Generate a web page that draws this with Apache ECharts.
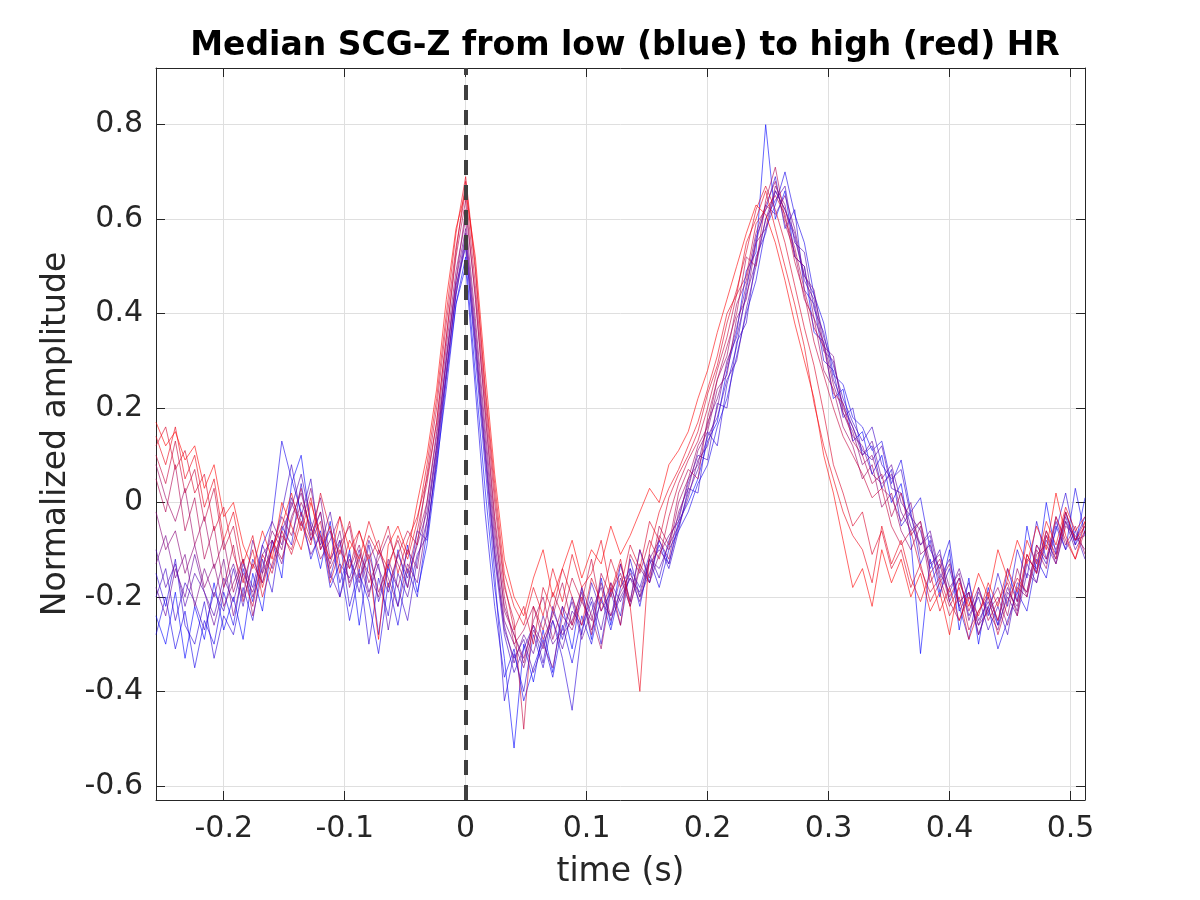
<!DOCTYPE html>
<html><head><meta charset="utf-8">
<script src="https://cdn.jsdelivr.net/npm/echarts@6/dist/echarts.min.js"></script>
<style>html,body{margin:0;padding:0;background:#fff}#c{width:1200px;height:900px}</style>
</head><body><div id="c"></div>
<script>
const times = [-0.256,-0.248,-0.240,-0.232,-0.224,-0.216,-0.208,-0.200,-0.192,-0.184,
-0.176,-0.168,-0.160,-0.152,-0.144,-0.136,-0.128,-0.120,-0.112,-0.104,
-0.096,-0.088,-0.080,-0.072,-0.064,-0.056,-0.048,-0.040,-0.032,-0.024,
-0.016,-0.008,0.000,0.008,0.016,0.024,0.032,0.040,0.048,0.056,
0.064,0.072,0.080,0.088,0.096,0.104,0.112,0.120,0.128,0.136,
0.144,0.152,0.160,0.168,0.176,0.184,0.192,0.200,0.208,0.216,
0.224,0.232,0.240,0.248,0.256,0.264,0.272,0.280,0.288,0.296,
0.304,0.312,0.320,0.328,0.336,0.344,0.352,0.360,0.368,0.376,
0.384,0.392,0.400,0.408,0.416,0.424,0.432,0.440,0.448,0.456,
0.464,0.472,0.480,0.488,0.496,0.504,0.512];

const hr1 = [-0.24,-0.30,-0.19,-0.33,-0.22,-0.29,-0.17,-0.27,-0.20,-0.29,-0.15,-0.23,-0.08,-0.16,0.04,
0.10,-0.05,-0.14,-0.04,-0.20,-0.10,-0.26,-0.12,-0.28,-0.13,-0.22,-0.09,-0.19,-0.09,
0.07,0.26,0.42,0.52,0.27,0.03,-0.18,
-0.33,-0.52,-0.30,-0.38,-0.27,-0.36,-0.22,-0.31,-0.18,-0.29,-0.16,-0.26,-0.13,-0.21,-0.10,-0.17,-0.08,-0.13,-0.04,
0.00,0.05,0.13,0.17,0.28,0.36,0.49,0.53,0.80,0.60,0.66,0.52,0.50,0.36,0.34,0.22,0.24,0.13,
0.15,0.06,0.10,0.00,0.04,-0.08,-0.32,-0.12,-0.20,-0.10,-0.27,-0.16,-0.30,-0.18,-0.26,-0.14,-0.21,-0.05,-0.15,0.00,-0.11,-0.02,-0.09,0.01];
const hr1b = [-0.28,-0.20,-0.31,-0.23,-0.35,-0.25,-0.30,-0.19,-0.26,-0.14,-0.21,-0.09,-0.04,0.13,0.05,
-0.02,-0.12,-0.06,-0.18,-0.13,-0.25,-0.15,-0.21,-0.32,-0.17,-0.26,-0.14,-0.20,-0.06,
0.08,0.24,0.42,0.50,0.24,-0.02,-0.22,
-0.37,-0.31,-0.42,-0.35,-0.29,-0.37,-0.26,-0.34,-0.24,-0.30,-0.20,-0.27,-0.18,-0.14,-0.22,-0.12,-0.18,-0.10,-0.06,
-0.02,0.04,0.08,0.16,0.22,0.31,0.40,0.47,0.58,0.63,0.70,0.61,0.55,0.44,0.38,0.27,0.25,0.18,
0.16,0.11,0.13,0.04,0.09,-0.02,0.01,-0.10,-0.14,-0.08,-0.23,-0.19,-0.28,-0.22,-0.31,-0.25,-0.19,-0.23,-0.12,-0.16,-0.05,-0.10,0.03,-0.07];
const hr2 = [-0.15,-0.22,-0.12,-0.26,-0.30,-0.21,-0.33,-0.24,-0.28,-0.18,-0.25,-0.12,-0.19,-0.05,-0.09,
0.04,-0.08,-0.02,-0.16,-0.08,-0.22,-0.14,-0.30,-0.16,-0.24,-0.10,-0.18,-0.06,-0.08,
0.10,0.28,0.44,0.55,0.31,0.08,-0.15,
-0.42,-0.32,-0.40,-0.28,-0.35,-0.25,-0.33,-0.44,-0.27,-0.21,-0.30,-0.18,-0.24,-0.12,-0.20,-0.15,-0.09,-0.14,-0.06,
0.03,0.02,0.15,0.12,0.25,0.33,0.45,0.56,0.62,0.69,0.58,0.62,0.45,0.42,0.30,0.28,0.18,0.20,
0.10,0.12,0.03,0.07,-0.05,-0.02,-0.13,-0.08,-0.19,-0.14,-0.22,-0.29,-0.18,-0.24,-0.15,-0.22,-0.10,-0.16,-0.04,-0.12,-0.06,0.02,-0.08,-0.03];
const hr3 = [-0.20,-0.14,-0.25,-0.17,-0.21,-0.27,-0.19,-0.23,-0.14,-0.22,-0.12,-0.17,-0.10,-0.02,0.08,
-0.03,0.05,-0.10,-0.06,-0.17,-0.11,-0.19,-0.09,-0.21,-0.14,-0.18,-0.25,-0.12,-0.04,
0.12,0.30,0.46,0.54,0.33,0.10,-0.12,
-0.28,-0.36,-0.31,-0.26,-0.34,-0.22,-0.29,-0.20,-0.28,-0.17,-0.23,-0.19,-0.26,-0.14,-0.18,-0.11,-0.16,-0.08,-0.03,
0.04,0.10,0.09,0.21,0.20,0.34,0.38,0.52,0.57,0.66,0.62,0.56,0.48,0.44,0.35,0.29,0.22,0.17,
0.13,0.16,0.08,0.05,0.07,-0.03,-0.06,-0.14,-0.10,-0.21,-0.16,-0.24,-0.20,-0.27,-0.22,-0.28,-0.17,-0.19,-0.09,-0.13,-0.04,-0.10,-0.06,-0.12];
const hr4 = [-0.10,-0.18,-0.13,-0.22,-0.15,-0.19,-0.24,-0.16,-0.21,-0.13,-0.18,-0.09,-0.14,-0.06,-0.01,
0.06,-0.04,-0.09,-0.02,-0.13,-0.16,-0.10,-0.19,-0.13,-0.27,-0.15,-0.20,-0.11,-0.07,
0.09,0.27,0.45,0.57,0.35,0.12,-0.10,
-0.27,-0.33,-0.29,-0.36,-0.30,-0.25,-0.31,-0.23,-0.26,-0.20,-0.27,-0.17,-0.21,-0.16,-0.19,-0.12,-0.14,-0.09,-0.05,
0.02,0.07,0.14,0.18,0.26,0.30,0.41,0.50,0.60,0.64,0.67,0.55,0.53,0.41,0.36,0.26,0.21,0.16,
0.11,0.09,0.12,0.03,0.02,-0.05,-0.09,-0.07,-0.16,-0.12,-0.22,-0.17,-0.25,-0.21,-0.26,-0.20,-0.24,-0.15,-0.17,-0.08,-0.12,-0.03,-0.09,-0.05];
const hr4b = [-0.18,-0.24,-0.14,-0.20,-0.11,-0.19,-0.26,-0.18,-0.13,-0.20,-0.08,-0.15,-0.04,-0.09,0.01,
-0.04,-0.11,-0.07,-0.15,-0.20,-0.12,-0.17,-0.08,-0.14,-0.19,-0.11,-0.16,-0.09,-0.02,
0.12,0.27,0.44,0.56,0.34,0.11,-0.11,
-0.26,-0.34,-0.28,-0.32,-0.24,-0.30,-0.27,-0.21,-0.29,-0.23,-0.18,-0.25,-0.20,-0.16,-0.21,-0.13,-0.10,-0.13,-0.05,
0.01,0.09,0.12,0.20,0.30,0.35,0.44,0.51,0.60,0.66,0.62,0.57,0.47,0.43,0.32,0.30,0.20,0.16,
0.10,0.13,0.05,0.08,0.00,-0.03,-0.09,-0.06,-0.15,-0.19,-0.14,-0.21,-0.26,-0.20,-0.25,-0.18,-0.23,-0.13,-0.17,-0.07,-0.13,-0.04,-0.10,-0.06];
const hr5 = [-0.13,-0.07,-0.16,-0.11,-0.22,-0.14,-0.20,-0.12,-0.24,-0.15,-0.19,-0.11,-0.08,-0.13,-0.03,
0.02,-0.06,0.01,-0.12,-0.08,-0.17,-0.12,-0.20,-0.10,-0.16,-0.22,-0.13,-0.17,-0.04,
0.11,0.31,0.47,0.58,0.37,0.14,-0.08,
-0.25,-0.30,-0.35,-0.27,-0.31,-0.23,-0.28,-0.25,-0.19,-0.27,-0.21,-0.24,-0.16,-0.22,-0.14,-0.17,-0.11,-0.07,-0.04,
0.05,0.08,0.17,0.22,0.29,0.37,0.46,0.55,0.63,0.61,0.65,0.58,0.48,0.45,0.33,0.31,0.19,0.14,
0.12,0.06,0.04,0.06,-0.02,-0.06,-0.04,-0.13,-0.11,-0.18,-0.15,-0.25,-0.19,-0.23,-0.27,-0.19,-0.22,-0.12,-0.14,-0.06,-0.10,-0.04,-0.08,-0.07];
const hr6 = [-0.02,-0.10,-0.06,-0.15,-0.09,-0.18,-0.13,-0.22,-0.17,-0.12,-0.20,-0.14,-0.06,-0.10,0.00,
-0.05,0.03,-0.08,-0.13,-0.06,-0.18,-0.11,-0.15,-0.20,-0.12,-0.18,-0.10,-0.14,0.00,
0.15,0.33,0.49,0.60,0.39,0.16,-0.06,
-0.22,-0.28,-0.33,-0.26,-0.30,-0.35,-0.24,-0.27,-0.21,-0.25,-0.17,-0.24,-0.19,-0.15,-0.20,-0.12,-0.08,-0.12,-0.02,
0.03,0.11,0.15,0.24,0.27,0.39,0.43,0.55,0.58,0.67,0.63,0.52,0.50,0.39,0.34,0.25,0.19,0.15,
0.08,0.10,0.03,0.01,-0.04,0.00,-0.11,-0.09,-0.17,-0.13,-0.21,-0.19,-0.26,-0.23,-0.20,-0.26,-0.18,-0.20,-0.11,-0.09,-0.13,-0.05,-0.07,-0.10];
const hr6b = [0.08,0.01,-0.04,0.03,-0.09,-0.03,-0.14,-0.08,-0.19,-0.12,-0.24,-0.15,-0.10,-0.03,-0.07,
0.00,-0.05,-0.12,-0.08,-0.03,-0.14,-0.09,-0.17,-0.12,-0.07,-0.13,-0.18,-0.08,0.00,
0.14,0.30,0.47,0.62,0.44,0.19,-0.04,
-0.23,-0.28,-0.34,-0.25,-0.20,-0.29,-0.22,-0.26,-0.18,-0.24,-0.31,-0.19,-0.15,-0.22,-0.13,-0.17,-0.07,-0.10,0.00,
0.05,0.12,0.16,0.26,0.31,0.42,0.47,0.57,0.63,0.68,0.59,0.53,0.43,0.39,0.28,0.24,0.16,0.12,
0.05,0.08,-0.01,0.02,-0.06,-0.10,-0.05,-0.17,-0.13,-0.21,-0.25,-0.19,-0.28,-0.22,-0.18,-0.24,-0.14,-0.20,-0.10,-0.14,-0.03,-0.09,-0.05,-0.11];
const hr7 = [0.05,-0.02,0.08,-0.06,0.01,-0.12,-0.05,-0.18,-0.09,-0.21,-0.13,-0.17,-0.08,-0.12,-0.04,
0.03,-0.07,-0.02,-0.14,-0.09,-0.05,-0.16,-0.11,-0.19,-0.13,-0.08,-0.15,-0.06,0.04,
0.17,0.35,0.52,0.64,0.43,0.20,-0.03,
-0.20,-0.30,-0.27,-0.22,-0.29,-0.24,-0.17,-0.26,-0.20,-0.28,-0.15,-0.20,-0.13,-0.21,-0.10,-0.16,-0.05,-0.09,0.02,
0.07,0.05,0.18,0.26,0.33,0.40,0.52,0.50,0.64,0.71,0.60,0.54,0.45,0.37,0.33,0.23,0.21,0.13,
0.10,0.04,0.06,-0.03,0.02,-0.07,-0.04,-0.15,-0.12,-0.20,-0.16,-0.23,-0.18,-0.25,-0.21,-0.17,-0.24,-0.11,-0.15,-0.07,-0.11,-0.02,-0.08,-0.04];
const hr8 = [0.10,0.04,0.13,0.02,0.07,-0.04,0.03,-0.10,-0.05,-0.16,-0.22,-0.11,-0.15,-0.07,-0.10,
-0.02,-0.08,-0.04,-0.17,-0.10,-0.14,-0.06,-0.12,-0.08,-0.18,-0.11,-0.06,-0.09,0.06,
0.20,0.38,0.54,0.66,0.46,0.22,0.00,
-0.18,-0.25,-0.48,-0.22,-0.27,-0.19,-0.24,-0.16,-0.21,-0.12,-0.23,-0.17,-0.26,-0.11,-0.15,-0.08,-0.12,-0.03,0.04,
0.09,0.13,0.20,0.28,0.35,0.44,0.48,0.59,0.62,0.65,0.61,0.51,0.44,0.34,0.27,0.20,0.14,0.10,
0.06,0.01,0.03,-0.05,-0.09,-0.06,-0.14,-0.19,-0.16,-0.22,-0.18,-0.27,-0.23,-0.20,-0.28,-0.21,-0.16,-0.19,-0.09,-0.12,-0.03,-0.08,-0.12,-0.06];
const hr8b = [0.12,0.16,0.07,0.11,0.02,0.06,-0.06,-0.01,-0.11,-0.17,-0.10,-0.20,-0.13,-0.06,-0.11,
-0.04,-0.09,0.02,-0.06,-0.11,-0.04,-0.14,-0.07,-0.11,-0.05,-0.15,-0.08,-0.03,0.05,
0.17,0.35,0.53,0.68,0.49,0.24,0.02,
-0.17,-0.27,-0.22,-0.30,-0.18,-0.23,-0.14,-0.20,-0.26,-0.16,-0.21,-0.12,-0.18,-0.09,-0.14,-0.04,-0.08,0.01,0.06,
0.10,0.15,0.23,0.29,0.38,0.45,0.53,0.62,0.67,0.62,0.55,0.46,0.37,0.29,0.19,0.08,0.02,-0.05,
-0.02,-0.11,-0.06,-0.14,-0.10,-0.18,-0.13,-0.21,-0.17,-0.24,-0.20,-0.29,-0.23,-0.19,-0.25,-0.16,-0.21,-0.11,-0.15,-0.06,-0.12,-0.02,-0.08,-0.05];
const hr9 = [0.14,0.08,0.16,0.05,0.10,-0.01,0.05,-0.08,-0.02,-0.13,-0.07,-0.18,-0.10,-0.05,0.02,
-0.06,0.01,-0.10,-0.05,-0.15,-0.08,-0.12,-0.04,-0.10,-0.14,-0.07,-0.12,-0.04,0.08,
0.22,0.40,0.57,0.69,0.50,0.25,0.04,
-0.15,-0.22,-0.26,-0.18,-0.24,-0.14,-0.21,-0.11,-0.18,-0.15,-0.08,-0.19,-0.12,-0.22,-0.40,-0.10,-0.02,0.03,0.07,
0.12,0.17,0.24,0.31,0.40,0.44,0.55,0.60,0.66,0.58,0.50,0.42,0.33,0.21,0.12,0.05,-0.02,-0.07,
-0.10,-0.17,-0.05,-0.13,-0.08,-0.16,-0.21,-0.15,-0.23,-0.18,-0.25,-0.20,-0.24,-0.17,-0.22,-0.14,-0.19,-0.08,-0.13,-0.04,-0.09,-0.01,-0.06,-0.03];
const hr10 = [0.17,0.12,0.15,0.09,0.12,0.03,0.08,-0.03,0.00,-0.09,-0.14,-0.06,-0.12,0.00,-0.05,
-0.10,0.00,-0.07,-0.12,-0.03,-0.10,-0.06,-0.13,-0.29,-0.09,-0.05,-0.11,0.00,0.10,
0.24,0.43,0.58,0.66,0.52,0.28,0.06,
-0.12,-0.20,-0.24,-0.16,-0.10,-0.20,-0.14,-0.08,-0.16,-0.10,-0.13,-0.05,-0.11,-0.07,-0.02,0.03,0.00,0.08,0.11,
0.15,0.22,0.28,0.36,0.43,0.50,0.57,0.63,0.61,0.55,0.47,0.38,0.30,0.22,0.10,0.02,-0.08,-0.18,
-0.14,-0.22,-0.10,-0.17,-0.12,-0.20,-0.15,-0.23,-0.19,-0.28,-0.17,-0.22,-0.15,-0.20,-0.10,-0.16,-0.08,-0.13,-0.05,-0.10,0.02,-0.07,-0.12,-0.04];

// ordered from lowest to highest heart rate
const traces = [hr1,hr1b,hr2,hr3,hr4,hr4b,hr5,hr6,hr6b,hr7,hr8,hr8b,hr9,hr10];
const traceColors = ['rgba(0,0,255,0.6)','rgba(20,0,235,0.6)','rgba(39,0,216,0.6)','rgba(59,0,196,0.6)','rgba(78,0,177,0.6)',
'rgba(98,0,157,0.6)','rgba(118,0,137,0.6)','rgba(137,0,118,0.6)','rgba(157,0,98,0.6)','rgba(177,0,78,0.6)',
'rgba(196,0,59,0.6)','rgba(216,0,39,0.6)','rgba(235,0,20,0.6)','rgba(255,0,0,0.6)'];
const xTicks = [-0.2,-0.1,0,0.1,0.2,0.3,0.4,0.5];
const yTicks = [-0.6,-0.4,-0.2,0,0.2,0.4,0.6,0.8];
const xRange = [-0.256, 0.512];
const yRange = [-0.63, 0.92];

const fmt = v => { const r = Math.round(v*10)/10; return r === 0 ? '0' : String(r); };
const txt = '#262626';
const font = 'DejaVu Sans';

const series = traces.map((arr, k) => ({
  type: 'line', showSymbol: false, symbol: 'none', silent: true, animation: false,
  data: arr.map((v, i) => [times[i], v]),
  lineStyle: { width: 1, color: traceColors[k] }
}));
series.push({
  type: 'line', data: [], silent: true, animation: false,
  markLine: {
    symbol: ['none','none'], silent: true, animation: false,
    label: { show: false },
    lineStyle: { color: '#404040', width: 4, type: [15, 10] },
    data: [{ xAxis: 0 }]
  }
});

const chart = echarts.init(document.getElementById('c'), null, { renderer: 'canvas' });
chart.setOption({
  backgroundColor: '#fff',
  animation: false,
  title: {
    text: 'Median SCG-Z from low (blue) to high (red) HR',
    left: 620, top: 25, textAlign: 'center',
    textStyle: { fontFamily: font, fontWeight: 'bold', fontSize: 33, color: '#000' }
  },
  grid: { left: 156, right: 115, top: 68, bottom: 100, containLabel: false },
  xAxis: [{
    type: 'value', min: xRange[0], max: xRange[1], position: 'bottom',
    name: 'time (s)', nameLocation: 'middle', nameGap: 56,
    nameTextStyle: { fontFamily: font, fontSize: 33, color: txt },
    axisLine: { show: true, onZero: false, lineStyle: { color: txt, width: 1 } },
    axisTick: { show: true, inside: true, length: 9, customValues: xTicks, lineStyle: { color: txt } },
    axisLabel: { customValues: xTicks, formatter: fmt, fontFamily: font, fontSize: 30, color: txt, margin: 14 },
    splitLine: { show: true, lineStyle: { color: '#dfdfdf', width: 1 } }
  }, {
    type: 'value', min: xRange[0], max: xRange[1], position: 'top',
    axisLine: { show: true, onZero: false, lineStyle: { color: txt, width: 1 } },
    axisTick: { show: true, inside: true, length: 9, customValues: xTicks, lineStyle: { color: txt } },
    axisLabel: { show: false, customValues: xTicks },
    splitLine: { show: false }
  }],
  yAxis: [{
    type: 'value', min: yRange[0], max: yRange[1], position: 'left',
    name: 'Normalized amplitude', nameLocation: 'middle', nameGap: 83, nameRotate: 90,
    nameTextStyle: { fontFamily: font, fontSize: 33, color: txt },
    axisLine: { show: true, onZero: false, lineStyle: { color: txt, width: 1 } },
    axisTick: { show: true, inside: true, length: 9, customValues: yTicks, lineStyle: { color: txt } },
    axisLabel: { customValues: yTicks, formatter: fmt, fontFamily: font, fontSize: 30, color: txt, margin: 13 },
    splitLine: { show: true, lineStyle: { color: '#dfdfdf', width: 1 } }
  }, {
    type: 'value', min: yRange[0], max: yRange[1], position: 'right',
    axisLine: { show: true, onZero: false, lineStyle: { color: txt, width: 1 } },
    axisTick: { show: true, inside: true, length: 9, customValues: yTicks, lineStyle: { color: txt } },
    axisLabel: { show: false, customValues: yTicks },
    splitLine: { show: false }
  }],
  series: series
});
</script>
</body></html>
